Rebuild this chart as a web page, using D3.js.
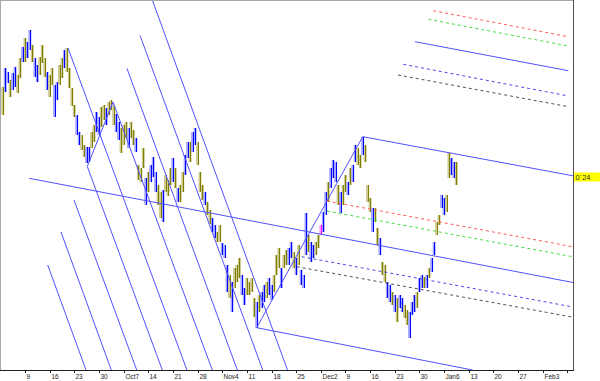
<!DOCTYPE html>
<html><head><meta charset="utf-8">
<script src="https://cdn.jsdelivr.net/npm/d3@7"></script>
<style>html,body{margin:0;padding:0;background:#fff;}svg{display:block;}</style>
</head><body>
<svg id="c" width="600" height="381"></svg>
<script>
// ---- data ----
const tickLabels = ["9","16","23","30","Oct7","14","21","28","Nov4","11","18","25","Dec2","9","16","23","30","Jan6","13","20","27","Feb3",""];
const highs = [
8.13,8.32,8.28,8.20,8.27,8.33,8.25,8.42,8.53,8.62,
8.58,8.70,8.55,8.42,8.35,8.43,8.55,8.42,8.28,8.25,
8.32,8.15,8.18,8.35,8.42,8.50,8.52,8.32,8.12,7.95,
7.85,7.68,7.65,7.55,7.53,7.53,7.68,7.75,7.88,7.83,
7.93,7.95,7.92,7.98,8.00,7.95,7.86,7.78,7.72,7.75,
7.78,7.72,7.78,7.70,7.62,7.35,7.32,7.52,7.22,7.28,
7.35,7.43,7.28,7.15,7.08,7.10,7.25,7.20,7.32,7.42,
7.32,7.12,7.15,7.28,7.45,7.58,7.58,7.68,7.72,7.58,
7.28,7.15,7.08,6.98,6.90,6.82,6.75,6.68,6.75,6.57,
6.55,6.35,6.25,6.18,6.32,6.35,6.42,6.25,6.12,6.22,
6.18,6.22,6.02,5.98,6.05,6.08,6.15,6.18,6.22,6.15,
6.25,6.45,6.52,6.32,6.45,6.50,6.52,6.58,6.48,6.42,
6.55,6.30,6.25,6.87,6.65,6.58,6.55,6.58,6.65,6.75,
6.88,7.08,7.18,7.32,7.40,7.38,7.15,7.08,7.15,7.25,
7.18,7.32,7.35,7.55,7.52,7.45,7.63,7.55,7.15,7.02,
6.92,6.92,6.72,6.62,6.38,6.35,6.18,6.15,6.08,6.05,
6.02,6.05,6.02,5.95,5.90,5.88,5.98,6.05,6.08,6.22,
6.25,6.23,6.25,6.32,6.42,6.58,6.78,6.85,7.05,7.02,
7.05,7.47,7.42,7.38,7.38];
const lows = [
7.85,8.08,8.17,8.03,8.10,8.13,8.07,8.22,8.38,8.38,
8.42,8.50,8.38,8.23,8.18,8.25,8.37,8.23,8.10,8.03,
8.15,7.83,8.00,8.15,8.22,8.32,8.28,8.12,7.94,7.83,
7.65,7.55,7.50,7.43,7.37,7.38,7.52,7.58,7.68,7.65,
7.73,7.80,7.75,7.85,7.90,7.75,7.68,7.60,7.47,7.55,
7.62,7.52,7.62,7.55,7.48,7.20,7.18,7.32,6.95,7.08,
7.18,7.23,7.08,6.95,6.82,6.78,7.08,7.04,7.15,7.18,
7.12,6.98,6.98,7.08,7.25,7.42,7.38,7.48,7.55,7.35,
7.08,7.00,6.95,6.85,6.76,6.68,6.62,6.58,6.58,6.45,
6.42,6.08,6.02,5.88,6.12,6.18,6.22,6.05,5.95,6.05,
6.05,6.08,5.83,5.72,5.88,5.92,5.98,6.02,6.05,6.00,
6.08,6.25,6.32,6.12,6.32,6.35,6.35,6.42,6.32,6.25,
6.35,6.15,6.12,6.45,6.48,6.38,6.42,6.45,6.52,6.65,
6.68,6.85,6.98,7.12,7.22,7.18,6.95,6.87,6.95,7.08,
7.05,7.15,7.18,7.38,7.35,7.32,7.45,7.38,6.98,6.88,
6.68,6.78,6.55,6.45,6.25,6.18,6.02,5.98,5.95,5.88,
5.78,5.92,5.88,5.82,5.75,5.62,5.85,5.88,5.92,6.08,
6.12,6.12,6.12,6.22,6.28,6.45,6.65,6.75,6.92,6.85,
6.88,7.22,7.25,7.22,7.15];
// b = blue bar, o = olive bar, m = highlighted (magenta) bar
const barColors = ("obbobboobo"+"bbobbooobo"+"obbooboooo"+"bboobboobb"+"oobooobboo"+
  "oboobooobo"+"bbboobooob"+"oboobbobbo"+"ooboobboob"+"bbobooobbo"+
  "ooobobbobb"+"oooboobbob"+"obbbobboom"+"bbobbboboo"+"bobboobooo"+
  "booboobbob"+"obboobbbob"+"bobobboobb"+"oobbo").split("");

// trend lines in data coords: [barIndex1, price1, barIndex2, price2]
const fanLines = [
  [18.21,6.35,33.75,5.30],[23.60,6.68,44.01,5.30],[28.88,7.00,54.31,5.30],
  [34.27,7.335,64.70,5.30],[26.44,8.52,74.68,5.30],[44.70,7.98,84.98,5.30],
  [50.34,8.317,95.13,5.30],[55.69,8.645,105.43,5.30],[60.64,9.00,115.49,5.30]
];
const solidLines = [
  [34.27,7.335,44.70,7.98],     // swing up-leg
  [10.74,7.217,231.31,6.175],   // long trend line
  [146.0,7.633,231.31,7.242],   // pitchfork upper
  [103.0,5.723,190.54,5.30],    // pitchfork lower
  [103.0,5.723,146.0,7.633],    // swing low to high
  [167.21,8.583,229.41,8.293]   // upper copy, median
];
const dashedLines = [
  {c:"#ff5a5a", p:[131.4,6.99,231.31,6.532]},
  {c:"#3ee03e", p:[131.4,6.89,231.31,6.432]},
  {c:"#4a4ae6", p:[121.25,6.433,231.31,5.93]},
  {c:"#505050", p:[119.22,6.333,231.31,5.828]},
  {c:"#ff5a5a", p:[174.64,8.893,229.41,8.633]},
  {c:"#3ee03e", p:[172.61,8.807,229.41,8.54]},
  {c:"#4a4ae6", p:[162.47,8.357,229.41,8.04]},
  {c:"#505050", p:[160.32,8.25,229.41,7.933]}
];
const priceLabel = {text:"0`24", value:7.242};

// ---- layout ----
const W = 600, H = 381, plotR = 573, plotB = 370;
const svg = d3.select("#c");
svg.append("rect").attr("width",W).attr("height",H).attr("fill","#fff");

const x = d3.scaleLinear().domain([0, 1]).range([2.815, 2.815 + 2.465]);
const y = d3.scaleLinear().domain([5.3, 9.0]).range([plotB, 0]);

svg.append("clipPath").attr("id","pc").append("rect")
  .attr("x",0).attr("y",0).attr("width",plotR).attr("height",plotB);
const g = svg.append("g").attr("clip-path","url(#pc)");

// bars
const coreCol = {b:"#0000ff", o:"#808000", m:"#ff00ff"};
const haloCol = {b:"#a4a4ff", o:"#cdc892", m:"#ffa4ff"};
const bars = highs.map((h,i)=>({i, h, l:lows[i], c:barColors[i]}));
g.append("g").selectAll("rect").data(bars).join("rect")
  .attr("x", d => x(d.i) - 1.5).attr("width", 3)
  .attr("y", d => y(d.h)).attr("height", d => Math.max(1, y(d.l) - y(d.h)))
  .attr("fill", d => haloCol[d.c]);
g.append("g").selectAll("line").data(bars).join("line")
  .attr("x1", d => Math.round(x(d.i)) + 0.5).attr("x2", d => Math.round(x(d.i)) + 0.5)
  .attr("y1", d => y(d.h)).attr("y2", d => y(d.l))
  .attr("stroke", d => coreCol[d.c]).attr("stroke-width", 1);

// lines
const lineCol = "#5050ff";
g.append("g").selectAll("line").data(fanLines.concat(solidLines)).join("line")
  .attr("x1", d => x(d[0])).attr("y1", d => y(d[1]))
  .attr("x2", d => x(d[2])).attr("y2", d => y(d[3]))
  .attr("stroke", lineCol).attr("stroke-width", 1);
g.append("g").selectAll("line").data(dashedLines).join("line")
  .attr("x1", d => x(d.p[0])).attr("y1", d => y(d.p[1]))
  .attr("x2", d => x(d.p[2])).attr("y2", d => y(d.p[3]))
  .attr("stroke", d => d.c).attr("stroke-width", 1).attr("stroke-dasharray","3,3");

// frame
svg.append("line").attr("x1",0.5).attr("x2",0.5).attr("y1",0).attr("y2",plotB).attr("stroke","#a8a8a8");
svg.append("line").attr("x1",0).attr("x2",plotR).attr("y1",0.5).attr("y2",0.5).attr("stroke","#a8a8a8");
svg.append("line").attr("x1",plotR+0.5).attr("x2",plotR+0.5).attr("y1",0).attr("y2",plotB+1).attr("stroke","#505050");

// x axis
svg.append("line").attr("x1",0).attr("x2",plotR+1).attr("y1",plotB+0.5).attr("y2",plotB+0.5).attr("stroke","#202020");
const ticks = tickLabels.map((t,k)=>({t, i: 9 + 10*k}));
const tg = svg.append("g").selectAll("g").data(ticks).join("g")
  .attr("transform", d => `translate(${Math.round(x(d.i)) + 0.5},0)`);
tg.append("line").attr("y1",plotB).attr("y2",plotB+3).attr("stroke","#202020");
tg.append("text").attr("x",1).attr("y",378.5).text(d=>d.t)
  .attr("font-family","Liberation Sans, Arial, sans-serif").attr("font-size","6.5px").attr("fill","#222");

// price label
const py = y(priceLabel.value);
svg.append("rect").attr("x",plotR+1).attr("y",Math.round(py)-3.5).attr("width",W-plotR-1).attr("height",9).attr("fill","#ffff00");
svg.append("text").attr("x",plotR+2.5).attr("y",Math.round(py)+4).text(priceLabel.text)
  .attr("font-family","Liberation Sans, Arial, sans-serif").attr("font-size","7.5px").attr("fill","#333");
</script>
</body></html>
